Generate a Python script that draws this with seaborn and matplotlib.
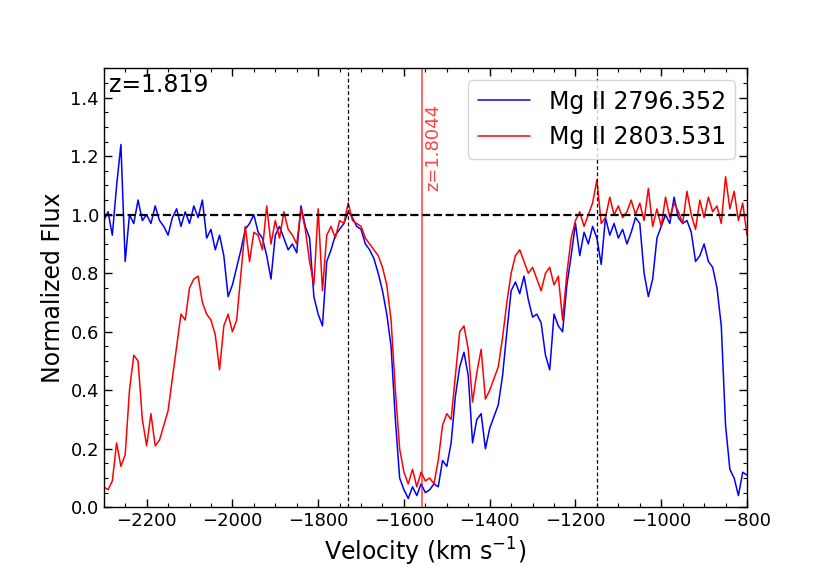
import numpy as np
import pandas as pd
import seaborn as sns
import matplotlib
matplotlib.use("Agg")
import matplotlib.pyplot as plt
from matplotlib.ticker import MultipleLocator

sns.set_style("ticks")
plt.rcParams.update({
    "text.color": "black",
    "axes.labelcolor": "black",
    "axes.edgecolor": "black",
    "xtick.color": "black",
    "ytick.color": "black",
})

# velocity grid (km/s) and normalized flux
velocity = np.arange(-2300, -799, 10)

flux_2796 = [
    0.98, 1.01, 0.93, 1.10, 1.24, 0.84, 1.00, 0.97, 1.05, 0.98,
    1.00, 0.97, 1.03, 0.98, 0.96, 0.93, 0.99, 1.02, 0.96, 1.01,
    0.97, 1.03, 0.99, 1.05, 0.92, 0.95, 0.88, 0.93, 0.86, 0.72,
    0.76, 0.82, 0.88, 0.95, 0.97, 1.00, 0.94, 0.92, 0.86, 0.78,
    0.93, 0.96, 0.92, 0.88, 0.90, 0.87, 1.03, 0.96, 0.92, 0.72,
    0.66, 0.62, 0.84, 0.88, 0.93, 0.95, 0.97, 1.01, 0.99, 0.96,
    0.95, 0.90, 0.88, 0.85, 0.80, 0.74, 0.66, 0.55, 0.30, 0.10,
    0.06, 0.03, 0.07, 0.04, 0.08, 0.05, 0.06, 0.08, 0.07, 0.16,
    0.14, 0.22, 0.38, 0.48, 0.53, 0.45, 0.22, 0.30, 0.32, 0.20,
    0.27, 0.31, 0.35, 0.45, 0.60, 0.74, 0.77, 0.73, 0.79, 0.71,
    0.65, 0.66, 0.63, 0.52, 0.47, 0.66, 0.62, 0.60, 0.76, 0.86,
    0.97, 0.86, 0.94, 0.90, 0.96, 0.92, 0.83, 0.99, 0.93, 0.97,
    0.92, 0.95, 0.90, 0.94, 0.99, 0.97, 0.80, 0.72, 0.78, 0.92,
    0.96, 1.00, 0.97, 1.06, 0.99, 0.97, 0.98, 0.94, 0.84, 0.86,
    0.90, 0.84, 0.82, 0.75, 0.62, 0.28, 0.13, 0.10, 0.04, 0.12,
    0.11,
]

flux_2803 = [
    0.07, 0.06, 0.09, 0.22, 0.14, 0.18, 0.40, 0.52, 0.50, 0.30,
    0.21, 0.32, 0.21, 0.23, 0.28, 0.33, 0.44, 0.55, 0.66, 0.64,
    0.75, 0.78, 0.79, 0.70, 0.66, 0.64, 0.59, 0.47, 0.62, 0.66,
    0.60, 0.64, 0.80, 0.96, 0.84, 0.94, 0.93, 0.88, 1.03, 0.90,
    0.98, 0.92, 1.01, 0.95, 0.93, 0.90, 1.02, 0.95, 0.84, 0.76,
    1.02, 0.74, 0.93, 0.96, 0.92, 0.98, 0.97, 1.04, 0.98, 0.97,
    0.96, 0.92, 0.90, 0.88, 0.86, 0.82, 0.76, 0.64, 0.40, 0.20,
    0.12, 0.08, 0.13, 0.07, 0.12, 0.09, 0.10, 0.08, 0.16, 0.28,
    0.32, 0.30, 0.45, 0.60, 0.62, 0.54, 0.36, 0.46, 0.54, 0.37,
    0.40, 0.44, 0.48, 0.58, 0.70, 0.80, 0.86, 0.88, 0.84, 0.80,
    0.82, 0.78, 0.74, 0.80, 0.82, 0.76, 0.79, 0.64, 0.80, 0.92,
    0.98, 1.01, 0.96, 1.00, 1.04, 1.12, 0.97, 0.99, 1.06, 1.00,
    1.03, 0.99, 1.01, 1.05, 1.00, 1.04, 0.98, 1.09, 0.96, 1.02,
    0.96, 1.06, 0.99, 1.04, 1.01, 0.97, 1.08, 1.00, 0.95, 1.05,
    0.99, 1.06, 1.01, 1.03, 0.97, 1.13, 1.02, 1.08, 0.98, 1.04,
    0.93,
]

line_names = ["Mg II 2796.352", "Mg II 2803.531"]
line_colors = ["blue", "red"]

z_sys = "z=1.819"
z_abs = "z=1.8044"
v_abs = -1557
v_marks = [-1730, -1150]

df = pd.concat([
    pd.DataFrame({"velocity": velocity, "flux": flux_2796, "line": line_names[0]}),
    pd.DataFrame({"velocity": velocity, "flux": flux_2803, "line": line_names[1]}),
])

fig, ax = plt.subplots(figsize=(8.3, 5.7), dpi=100)

sns.lineplot(data=df, x="velocity", y="flux", hue="line", hue_order=line_names,
             palette=dict(zip(line_names, line_colors)), estimator=None,
             sort=False, linewidth=1.1, ax=ax)

ax.axhline(1.0, color="black", linestyle="--", linewidth=1.6)
for v in v_marks:
    ax.axvline(v, color="black", linestyle="--", linewidth=0.9, dashes=(3, 2))
ax.axvline(v_abs, color="red", linewidth=1.1, alpha=0.75)
ax.text(v_abs + 4, 1.08, z_abs, rotation=90, color="red", alpha=0.75,
        fontsize=13, ha="left", va="bottom")
ax.text(0.008, 0.99, z_sys, transform=ax.transAxes, fontsize=17,
        ha="left", va="top")

ax.set_xlim(-2300, -800)
ax.set_ylim(0, 1.5)
ax.xaxis.set_major_locator(MultipleLocator(200))
ax.xaxis.set_minor_locator(MultipleLocator(50))
ax.yaxis.set_major_locator(MultipleLocator(0.2))
ax.yaxis.set_minor_locator(MultipleLocator(0.05))
ax.tick_params(which="both", direction="in", top=True, right=True, labelsize=13)
ax.tick_params(which="major", length=6, width=1)
ax.tick_params(which="minor", length=3, width=0.8)
for s in ax.spines.values():
    s.set_linewidth(1.0)

ax.set_xlabel("Velocity (km s$^{-1}$)", fontsize=17)
ax.set_ylabel("Normalized Flux", fontsize=17)

handles, labels = ax.get_legend_handles_labels()
ax.legend(handles, labels, loc="upper right", fontsize=17, frameon=True,
          fancybox=True, edgecolor="0.8", handlelength=2.2)

fig.savefig("out.png", dpi=100)
